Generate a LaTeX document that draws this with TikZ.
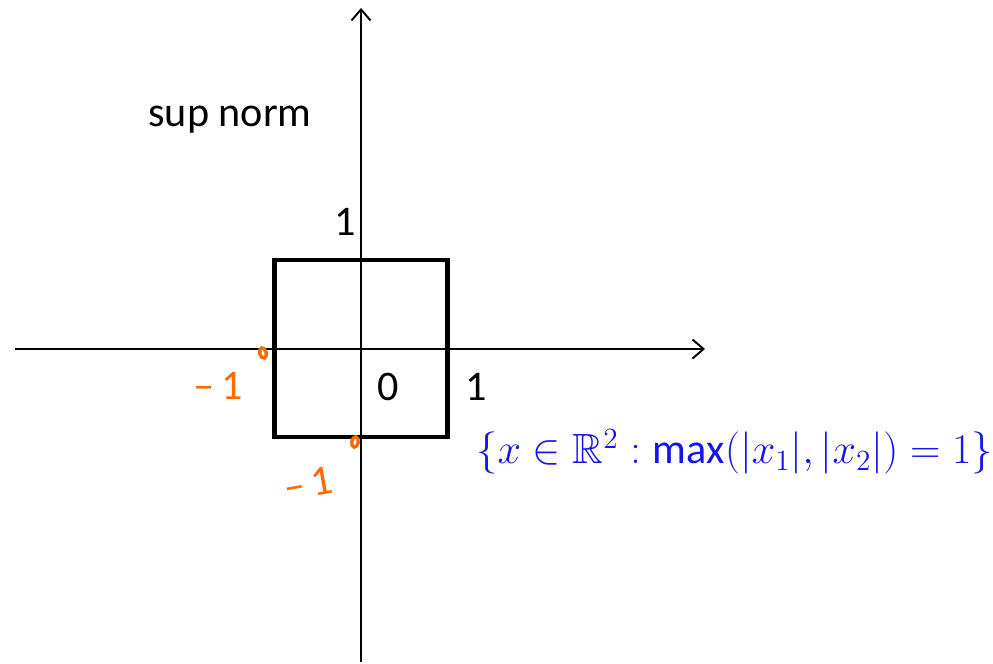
\documentclass[tikz,border=0pt]{standalone}
\usepackage{amsmath,amssymb}
\usepackage{fontspec}
\setmainfont{Carlito}
\usepackage{tikz}
\usetikzlibrary{arrows.meta,shapes.geometric}
\definecolor{pen}{HTML}{FF6A00}
\definecolor{ink}{HTML}{1414EE}

\begin{document}
\begin{tikzpicture}[
  font=\fontsize{24}{28}\selectfont,
  axis/.style={draw=black,line width=1.1pt,-{Straight Barb[length=2.2mm,width=3.8mm,line width=1.1pt]}},
  ball/.style={draw=black,line width=2.3pt,minimum width=3.46cm,minimum height=3.54cm,inner sep=0pt},
  lbl/.style={inner sep=0pt},
  dot/.style={draw=pen,line width=1.9pt,ellipse,minimum width=0.13cm,minimum height=0.21cm,inner sep=0pt},
  hand/.style={text=pen,inner sep=0pt},
]
\useasboundingbox (-7.22,-6.30) rectangle (12.64,6.98);

\coordinate (O) at (0,0);
\coordinate (xl) at (-6.92,0);
\coordinate (xr) at (6.88,0);
\coordinate (yb) at (0,-6.26);
\coordinate (yt) at (0,6.82);
\draw[axis] (xl) -- (xr);
\draw[axis] (yb) -- (yt);

\node[ball] (sq) at (0,0.01) {};

\node[lbl] (title) at (-2.62,4.58) {sup norm};
\node[lbl] (one-y) at (-0.32,2.54) {1};
\node[lbl] (zero) at (0.54,-0.76) {0};
\node[lbl] (one-x) at (2.30,-0.76) {1};

% orange marks
\node[dot,rotate=15] (px) at (-1.96,-0.08) {};
\node[dot,rotate=-10] (py) at (-0.12,-1.86) {};
\node[hand] (mx) at (-2.86,-0.74) {--\,1};
\node[hand,rotate=10] (my) at (-1.06,-2.70) {--\,1};

\node[lbl,text=ink,anchor=west,font=\huge,scale=1.16] (set) at (2.30,-2.06)
  {$\{x\in\mathbb{R}^2 : \max(|x_1|,|x_2|)=1\}$};
\end{tikzpicture}
\end{document}
